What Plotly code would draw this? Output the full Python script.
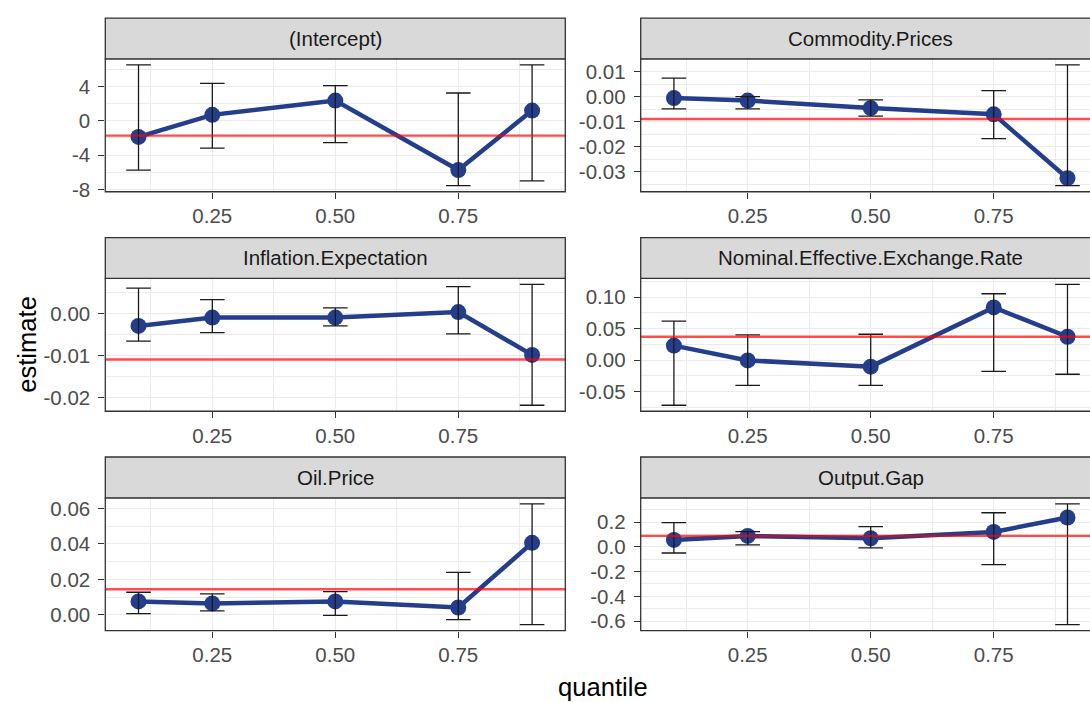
import plotly.graph_objects as go

# ---------------- data ----------------
quantiles = [0.1, 0.25, 0.5, 0.75, 0.9]
x_tick_vals = [0.25, 0.5, 0.75]
x_tick_text = ["0.25", "0.50", "0.75"]

panel_names = ["(Intercept)", "Commodity.Prices", "Inflation.Expectation",
               "Nominal.Effective.Exchange.Rate", "Oil.Price", "Output.Gap"]

est_intercept = [-1.88, 0.69, 2.35, -5.73, 1.19]
lo_intercept = [-5.73, -3.19, -2.54, -7.55, -7.0]
hi_intercept = [6.5, 4.35, 4.08, 3.23, 6.5]
ols_intercept = -1.73

est_commodity = [-0.0005, -0.0015, -0.0045, -0.0070, -0.0326]
lo_commodity = [-0.0048, -0.0048, -0.0077, -0.0167, -0.0356]
hi_commodity = [0.0075, 0.0001, -0.0012, 0.0025, 0.0128]
ols_commodity = -0.0089

est_inflation = [-0.0029, -0.0009, -0.0009, 0.0004, -0.0098]
lo_inflation = [-0.0065, -0.0045, -0.0029, -0.0048, -0.0218]
hi_inflation = [0.0061, 0.0034, 0.0014, 0.0065, 0.0070]
ols_inflation = -0.0109

est_neer = [0.023, -0.0005, -0.0104, 0.0836, 0.037]
lo_neer = [-0.0716, -0.040, -0.040, -0.0178, -0.0225]
hi_neer = [0.0617, 0.040, 0.041, 0.1052, 0.120]
ols_neer = 0.037

est_oil = [0.0075, 0.0064, 0.0075, 0.0041, 0.0406]
lo_oil = [0.0006, 0.0022, -0.0004, -0.0028, -0.0056]
hi_oil = [0.0127, 0.0118, 0.0131, 0.0239, 0.0626]
ols_oil = 0.0144

est_output = [0.056, 0.088, 0.069, 0.120, 0.237]
lo_output = [-0.050, 0.016, -0.008, -0.144, -0.629]
hi_output = [0.195, 0.123, 0.163, 0.275, 0.347]
ols_output = 0.088

y_tick_vals = [
    [-8, -4, 0, 4],
    [-0.03, -0.02, -0.01, 0.0, 0.01],
    [-0.02, -0.01, 0.0],
    [-0.05, 0.0, 0.05, 0.10],
    [0.0, 0.02, 0.04, 0.06],
    [-0.6, -0.4, -0.2, 0.0, 0.2],
]
y_tick_text = [
    ["-8", "-4", "0", "4"],
    ["-0.03", "-0.02", "-0.01", "0.00", "0.01"],
    ["-0.02", "-0.01", "0.00"],
    ["-0.05", "0.00", "0.05", "0.10"],
    ["0.00", "0.02", "0.04", "0.06"],
    ["-0.6", "-0.4", "-0.2", "0.0", "0.2"],
]

estimates = [est_intercept, est_commodity, est_inflation, est_neer, est_oil, est_output]
lowers = [lo_intercept, lo_commodity, lo_inflation, lo_neer, lo_oil, lo_output]
uppers = [hi_intercept, hi_commodity, hi_inflation, hi_neer, hi_oil, hi_output]
ols_values = [ols_intercept, ols_commodity, ols_inflation, ols_neer, ols_oil, ols_output]

# ---------------- style / layout ----------------
W, H = 1090, 702
FONT = "Liberation Sans, Arial, Helvetica, sans-serif"
BLUE = "rgb(36,62,140)"
RED = "rgba(255,0,0,0.70)"
GRID = "#EBEBEB"
BORDER = "#333333"
ERR_W = 0.05  # errorbar width in data units

col_left = [(105.3, 565.3), (640.7, 1100.7)]
strip_tops = [17.3, 240.0, 462.6]
STRIP_H = 41.4
PANEL_H = 134.8


def fx(p):
    return p / W


def fy(p):
    return 1 - p / H


x_lo = min(quantiles) - ERR_W / 2
x_hi = max(quantiles) + ERR_W / 2
x_pad = (x_hi - x_lo) * 0.05
x_r0, x_r1 = x_lo - x_pad, x_hi + x_pad

fig = go.Figure()
shapes = []
annotations = []

for i, name in enumerate(panel_names):
    r, c = divmod(i, 2)
    n = i + 1
    xa = "x" if n == 1 else f"x{n}"
    ya = "y" if n == 1 else f"y{n}"
    px0, px1 = col_left[c]
    st = strip_tops[r]
    pt = st + STRIP_H
    pb = pt + PANEL_H

    vis_px1 = min(px1, W)
    xr1 = x_r0 + (x_r1 - x_r0) * (vis_px1 - px0) / (px1 - px0)

    est, lo, hi = estimates[i], lowers[i], uppers[i]
    ymin, ymax = min(lo), max(hi)
    ypad = (ymax - ymin) * 0.05
    yr = [ymin - ypad, ymax + ypad]

    tv = y_tick_vals[i]
    step = tv[1] - tv[0]
    yminor = [tv[0] - step / 2] + [v + step / 2 for v in tv]
    xstep = x_tick_vals[1] - x_tick_vals[0]
    xminor = [x_tick_vals[0] - xstep / 2] + [v + xstep / 2 for v in x_tick_vals]

    fig.add_trace(go.Scatter(
        x=quantiles, y=est, mode="lines+markers",
        line=dict(color=BLUE, width=4.5),
        marker=dict(color=BLUE, size=16),
        xaxis=xa, yaxis=ya, showlegend=False, hoverinfo="skip"))
    fig.add_trace(go.Scatter(
        x=quantiles, y=est, mode="markers",
        marker=dict(size=1, color="rgba(0,0,0,0)"),
        error_y=dict(type="data", symmetric=False,
                     array=[h - e for h, e in zip(hi, est)],
                     arrayminus=[e - l for e, l in zip(est, lo)],
                     color="#1A1A1A", thickness=1.3,
                     width=ERR_W / 2 * (px1 - px0) / (x_r1 - x_r0)),
        xaxis=xa, yaxis=ya, showlegend=False, hoverinfo="skip"))

    axis_common = dict(
        showgrid=True, gridcolor=GRID, gridwidth=1.2, zeroline=False,
        showline=False, ticks="outside", ticklen=6, tickwidth=1.2,
        tickcolor=BORDER, tickfont=dict(family=FONT, size=20.5, color="#4D4D4D"),
        tickmode="array", fixedrange=True,
    )
    fig.layout[("xaxis" if n == 1 else f"xaxis{n}")] = dict(
        axis_common, domain=[fx(px0), fx(vis_px1)], range=[x_r0, xr1],
        tickvals=x_tick_vals, ticktext=x_tick_text, anchor=ya,
        minor=dict(tickmode="array", tickvals=xminor, showgrid=True,
                   gridcolor=GRID, gridwidth=0.6, ticks=""),
    )
    fig.layout[("yaxis" if n == 1 else f"yaxis{n}")] = dict(
        axis_common, domain=[fy(pb), fy(pt)], range=yr,
        tickvals=tv, ticktext=y_tick_text[i], anchor=xa,
        ticklabelstandoff=4,
        minor=dict(tickmode="array", tickvals=yminor, showgrid=True,
                   gridcolor=GRID, gridwidth=0.6, ticks=""),
    )

    # reference (OLS) line
    shapes.append(dict(type="line", xref=f"{xa} domain", yref=ya,
                       x0=0, x1=1, y0=ols_values[i], y1=ols_values[i],
                       line=dict(color=RED, width=2.4), layer="above"))
    # panel border
    shapes.append(dict(type="rect", xref="paper", yref="paper",
                       x0=fx(px0), x1=fx(px1), y0=fy(pb), y1=fy(pt),
                       line=dict(color=BORDER, width=1.3),
                       fillcolor="rgba(0,0,0,0)", layer="above"))
    # strip
    shapes.append(dict(type="rect", xref="paper", yref="paper",
                       x0=fx(px0), x1=fx(px1), y0=fy(pt), y1=fy(st),
                       line=dict(color=BORDER, width=1.3),
                       fillcolor="#D9D9D9", layer="above"))
    annotations.append(dict(text=name, xref="paper", yref="paper",
                            x=fx((px0 + px1) / 2), y=fy((st + pt) / 2),
                            xanchor="center", yanchor="middle", showarrow=False,
                            font=dict(family=FONT, size=20.5, color="#1A1A1A")))

# axis titles
annotations.append(dict(text="quantile", xref="paper", yref="paper",
                        x=fx((col_left[0][0] + col_left[1][1]) / 2), y=fy(696),
                        xanchor="center", yanchor="middle", showarrow=False,
                        font=dict(family=FONT, size=25.6, color="#000000")))
annotations.append(dict(text="estimate", xref="paper", yref="paper",
                        x=fx(27), y=fy((strip_tops[0] + STRIP_H + strip_tops[2] + STRIP_H + PANEL_H) / 2),
                        xanchor="center", yanchor="middle", showarrow=False,
                        textangle=-90,
                        font=dict(family=FONT, size=25.6, color="#000000")))

fig.update_layout(
    width=W, height=H, autosize=False,
    margin=dict(l=0, r=0, t=0, b=0),
    paper_bgcolor="white", plot_bgcolor="white",
    shapes=shapes, annotations=annotations, showlegend=False,
)

fig.write_html("out.html", config={"displayModeBar": False},
               post_script="document.body.style.margin='0';document.body.style.overflow='hidden';")
